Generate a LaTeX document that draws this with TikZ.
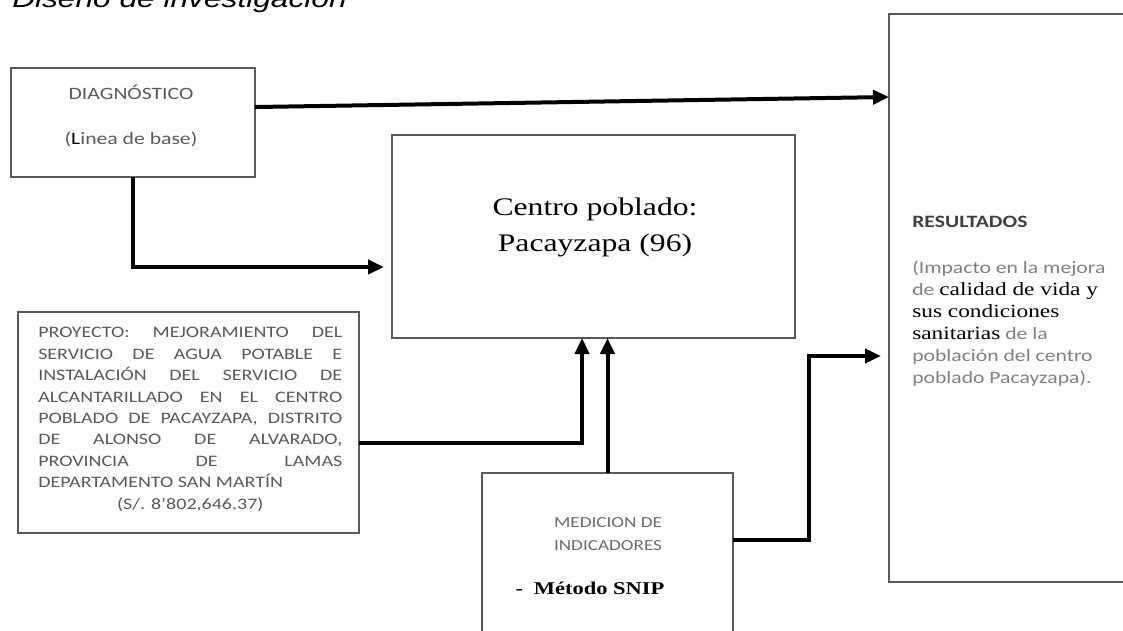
\documentclass[tikz,border=0pt]{standalone}
\usepackage{fontspec}
\usepackage{xcolor}
\usetikzlibrary{arrows.meta}
\setmainfont[FakeStretch=1.25]{Carlito}
\newfontfamily\timesfont[FakeStretch=1.25]{Liberation Serif}
\newfontfamily\titlefont[FakeStretch=1.25]{Liberation Sans}

\definecolor{boxgray}{HTML}{5A5A5A}
\definecolor{txtgray}{HTML}{595959}
\definecolor{midgray}{HTML}{6B6B6B}
\definecolor{lightgray}{HTML}{808080}
\definecolor{headgray}{HTML}{404040}

\tikzset{
  box/.style={draw=boxgray, line width=1.1pt, inner sep=0pt, outer sep=0pt},
  arr/.style={line width=3pt, -{Triangle[length=12pt, width=10.5pt]}},
}
\newcommand{\jline}[1]{\makebox[228pt][s]{#1}}
\newcommand{\serifblack}[1]{{\timesfont\fontsize{14}{16.5}\selectfont\color{black}#1}}

\begin{document}
\begin{tikzpicture}[x=0.75pt, y=-0.75pt]
    \useasboundingbox (0,0) rectangle (1123,631);
    \clip (0,0) rectangle (1123,631);

    \node[anchor=base west, inner sep=0pt, font=\titlefont\itshape\fontsize{19}{22}\selectfont] (title) at (12,8) {Diseño de investigación};

    % boxes
    \node[box, minimum width=183pt, minimum height=81.75pt] (diag) at (133,122.5) {};
    \node[box, minimum width=302.25pt, minimum height=152.25pt] (centro) at (593.5,236.5) {};
    \node[box, minimum width=255.75pt, minimum height=165.75pt] (proyecto) at (188.5,422.5) {};
    \node[box, minimum width=188.25pt, minimum height=140.25pt] (medicion) at (607.5,566.5) {};
    \node[box, minimum width=188.25pt, minimum height=426pt] (res) at (1014.5,298) {};

    % texts
    \node[font=\fontsize{13}{33.75}\selectfont, text=txtgray, align=center] (diagtxt) at (131,115.5)
        {DIAGNÓSTICO\\({\color{black}L}inea de base)};
    \node[font=\timesfont\fontsize{19}{27}\selectfont, align=center] (centrotxt) at (595,227)
        {Centro poblado:\\Pacayzapa (96)};
    \node[font=\fontsize{12}{16.1}\selectfont, text=txtgray, align=left, anchor=north west, inner sep=0pt] (proytxt) at (38,327)
        {\jline{PROYECTO: MEJORAMIENTO DEL}\\
         \jline{SERVICIO DE AGUA POTABLE E}\\
         \jline{INSTALACIÓN DEL SERVICIO DE}\\
         \jline{ALCANTARILLADO EN EL CENTRO}\\
         \jline{POBLADO DE PACAYZAPA, DISTRITO}\\
         \jline{DE ALONSO DE ALVARADO,}\\
         \jline{PROVINCIA DE LAMAS}\\
         DEPARTAMENTO SAN MARTÍN\\
         \makebox[228pt]{(S/. 8’802,646.37)}};
    \node[font=\fontsize{11.5}{17.25}\selectfont, text=midgray, align=center] (medtxt) at (608,534.5)
        {MEDICION DE\\INDICADORES};
    \node[font=\timesfont\bfseries\fontsize{13.5}{16}\selectfont] (snip) at (590,588) {-\hspace{8pt}Método SNIP};
    \node[font=\fontsize{13}{16.5}\selectfont, text=lightgray, align=left, anchor=north west, inner sep=0pt] (restxt) at (912,215.5)
        {{\color{headgray}\bfseries RESULTADOS}\\[18.5pt]
         (Impacto en la mejora\\
         de \serifblack{calidad de vida y}\\
         \serifblack{sus condiciones}\\
         \serifblack{sanitarias} de la\\
         población del centro\\
         poblado Pacayzapa).};

    % arrows
    \draw[arr] ([yshift=11.6pt]diag.east) -- ([yshift=150.75pt]res.west);
    \draw[arr, shorten >=6pt] (diag.south) |- ([yshift=-22.9pt]centro.west);
    \draw[arr] ([yshift=-15.4pt]proyecto.east) -| ([xshift=-8.6pt]centro.south);
    \draw[arr] (medicion.north) -- (medicion.north |- centro.south);
    \draw[arr, shorten >=6pt] ([yshift=19.9pt]medicion.east) -- ++(76,0) |- ([yshift=-43.5pt]res.west);

\end{tikzpicture}
\end{document}
